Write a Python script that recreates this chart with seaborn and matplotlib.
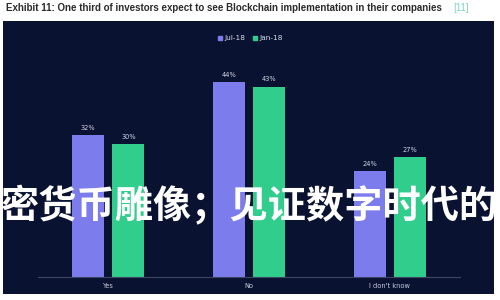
import matplotlib
matplotlib.use("Agg")
import matplotlib.pyplot as plt
import seaborn as sns
import pandas as pd
from matplotlib.patches import Rectangle
from matplotlib.lines import Line2D

categories = ["Yes", "No", "I don't know"]
series_names = ["Jul-18", "Jan-18"]
jul18 = [32, 44, 24]
jan18 = [30, 43, 27]
title = "Exhibit 11: One third of investors expect to see Blockchain implementation in their companies"
ref = "[11]"
watermark = "密货币雕像；见证数字时代的"

df = pd.DataFrame({
    "category": categories * 2,
    "series": [series_names[0]] * 3 + [series_names[1]] * 3,
    "value": jul18 + jan18,
})

sns.set_theme(style="white")
plt.rcParams['font.family'] = ['DejaVu Sans', 'Noto Sans CJK SC']

W, H = 500, 300
fig = plt.figure(figsize=(5, 3), dpi=100)
fig.patch.set_facecolor("white")

panel_col = "#0a1231"
fig.patches.append(Rectangle((3 / W, 1 - 294 / H), (494 - 3) / W, (294 - 21) / H,
                             transform=fig.transFigure, facecolor=panel_col,
                             edgecolor="none", zorder=-5))

fig.text(6 / W, 1 - 8 / H, title, fontsize=7.0, fontweight="bold", color="#2b2b2b",
         va="center", ha="left", family="Liberation Sans")
fig.text(453 / W, 1 - 8 / H, ref, fontsize=7.0, color="#7fd6c4", va="center", ha="left",
         family="Liberation Sans")

ax = fig.add_axes([38 / W, 1 - 277 / H, (460 - 38) / W, (277 - 40) / H])
ax.set_facecolor("none")
ax.set_zorder(1)
palette = {"Jul-18": "#7c7cec", "Jan-18": "#30cd8c"}
sns.barplot(data=df, x="category", y="value", hue="series", order=categories,
            hue_order=series_names, palette=palette, width=0.57, gap=0.2,
            saturation=1, ax=ax, legend=False, edgecolor="none")
ax.set_xlim(-0.5, 2.5)
ax.set_ylim(0, 53.5)
for c in ax.containers:
    ax.bar_label(c, labels=[f"{int(v)}%" for v in c.datavalues], padding=3,
                 fontsize=4.8, color="#d0d4e6")
for s in ["top", "right", "left"]:
    ax.spines[s].set_visible(False)
ax.spines["bottom"].set_color("#3c4766")
ax.spines["bottom"].set_linewidth(0.8)
ax.set_yticks([])
ax.set_xlabel("")
ax.set_ylabel("")
ax.tick_params(axis="x", length=0, pad=4, labelsize=4.8, labelcolor="#c8cce0")

handles = [Line2D([], [], marker="s", linestyle="none", markersize=3,
                  color=palette[n]) for n in series_names]
leg = fig.legend(handles, series_names, loc="center", bbox_to_anchor=(250 / W, 1 - 38 / H),
                 ncol=2, frameon=False, fontsize=5.3, handletextpad=0.2, columnspacing=1.0,
                 handlelength=0.8)
for t in leg.get_texts():
    t.set_color("#d8dcec")

wm = fig.text(1 / W, 1 - 206 / H, watermark, fontsize=27.5, fontweight="heavy", color="white",
              va="center", ha="left", family="Noto Sans CJK SC")
wm.set_zorder(10)

fig.savefig("out.png", dpi=100, facecolor=fig.get_facecolor())
